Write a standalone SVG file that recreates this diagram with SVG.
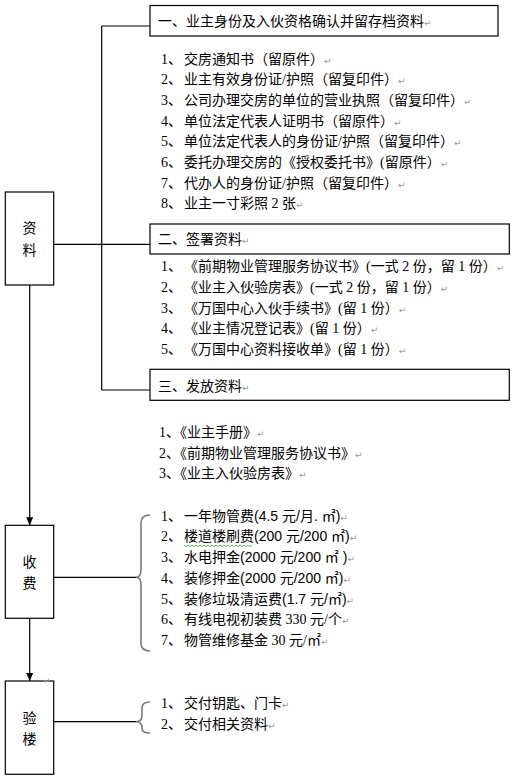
<svg xmlns="http://www.w3.org/2000/svg" width="518" height="782" viewBox="0 0 518 782">
<defs>
<style>
.bg{fill:#fff}
.box{fill:#fff;stroke:#000;stroke-width:1.2}
.ln{fill:none;stroke:#000;stroke-width:1.2}
.br{fill:none;stroke:#7a7a7a;stroke-width:1.6}
.t{font-family:"Liberation Serif","Noto Sans CJK SC",serif;font-size:14px;fill:#000}
.s{font-family:"Liberation Sans","Noto Sans CJK SC",sans-serif}
.pm{font-family:"DejaVu Sans",sans-serif;font-size:9px;fill:#9a9a9a}
.lb{font-family:"Noto Sans CJK SC",sans-serif;font-size:14px;fill:#000;text-anchor:middle}
.wv{fill:none;stroke:#3c9a3c;stroke-width:0.8}
</style>
<marker id="arr" viewBox="0 0 8 8" refX="8" refY="4" markerWidth="8" markerHeight="8" markerUnits="userSpaceOnUse" orient="auto">
<path d="M0,0.5 L8,4 L0,7.5 Z" fill="#000"/>
</marker>
</defs>
<rect class="bg" x="0" y="0" width="518" height="782"/>

<g id="connectors">
<line class="ln" x1="101.7" y1="26" x2="101.7" y2="390"/>
<line class="ln" x1="101.7" y1="26" x2="150" y2="26"/>
<line class="ln" x1="53.7" y1="244.3" x2="150" y2="244.3"/>
<line class="ln" x1="101.7" y1="390" x2="150" y2="390"/>
<line class="ln" x1="29.7" y1="285" x2="29.7" y2="525.3" marker-end="url(#arr)"/>
<line class="ln" x1="29.7" y1="618.3" x2="29.7" y2="681" marker-end="url(#arr)"/>
<line class="ln" x1="53.7" y1="577.3" x2="137" y2="577.3"/>
<line class="ln" x1="53.7" y1="721.7" x2="137" y2="721.7"/>
<path class="br" d="M150,515 Q141,515 141,523 L141,569.5 Q141,577.3 136,577.3 Q141,577.3 141,585 L141,643 Q141,651 150,651"/>
<path class="br" d="M150,702 Q142,702 142,708 L142,715.5 Q142,721.7 136,721.7 Q142,721.7 142,727.5 L142,728.5 Q142,733 150,733"/>
</g>

<g id="node-ziliao">
<rect class="box" x="5.3" y="192" width="48.4" height="93"/>
<text class="lb" x="29.5" y="233.3">资</text>
<text class="lb" x="29.5" y="255">料</text>
</g>

<g id="node-shoufei">
<rect class="box" x="5.3" y="525.3" width="48.4" height="93"/>
<text class="lb" x="29.5" y="566.7">收</text>
<text class="lb" x="29.5" y="587.7">费</text>
</g>

<g id="node-yanlou">
<rect class="box" x="5.3" y="681" width="48.4" height="93.3"/>
<text class="lb" x="29.5" y="723.3">验</text>
<text class="lb" x="29.5" y="744.3">楼</text>
<text class="pm" x="43" y="684">↵</text>
</g>

<g id="node-section1">
<rect class="box" x="150" y="5.5" width="348" height="30.5"/>
<text class="t" x="158" y="25.7">一、业主身份及入伙资格确认并留存档资料<tspan class="pm">↵</tspan></text>
</g>
<g id="list-section1">
<text class="t" x="161" y="63.5">1、<tspan x="184">交房通知书（留原件）</tspan><tspan class="pm">↵</tspan></text>
<text class="t" x="161" y="84.2">2、<tspan x="184">业主有效身份证/护照（留复印件）</tspan><tspan class="pm">↵</tspan></text>
<text class="t" x="161" y="104.9">3、<tspan x="184">公司办理交房的单位的营业执照（留复印件）</tspan><tspan class="pm">↵</tspan></text>
<text class="t" x="161" y="125.6">4、<tspan x="184">单位法定代表人证明书（留原件）</tspan><tspan class="pm">↵</tspan></text>
<text class="t" x="161" y="146.3">5、<tspan x="184">单位法定代表人的身份证/护照（留复印件）</tspan><tspan class="pm">↵</tspan></text>
<text class="t" x="161" y="167">6、<tspan x="184">委托办理交房的《授权委托书》(留原件）</tspan><tspan class="pm">↵</tspan></text>
<text class="t" x="161" y="187.7">7、<tspan x="184">代办人的身份证/护照（留复印件）</tspan><tspan class="pm">↵</tspan></text>
<text class="t" x="161" y="208.4">8、<tspan x="184">业主一寸彩照 2 张</tspan><tspan class="pm">↵</tspan></text>
</g>

<g id="node-section2">
<rect class="box" x="150" y="224" width="359.3" height="30"/>
<text class="t" x="158" y="244.3">二、签署资料<tspan class="pm">↵</tspan></text>
</g>
<g id="list-section2">
<text class="t" x="161" y="271">1、<tspan x="184">《前期物业管理服务协议书》(一式 2 份，留 1 份）</tspan><tspan class="pm">↵</tspan></text>
<text class="t" x="161" y="291.8">2、<tspan x="184">《业主入伙验房表》(一式 2 份，留 1 份）</tspan><tspan class="pm">↵</tspan></text>
<text class="t" x="161" y="312.6">3、<tspan x="184">《万国中心入伙手续书》(留 1 份）</tspan><tspan class="pm">↵</tspan></text>
<text class="t" x="161" y="333.4">4、<tspan x="184">《业主情况登记表》(留 1 份）</tspan><tspan class="pm">↵</tspan></text>
<text class="t" x="161" y="354.2">5、<tspan x="184">《万国中心资料接收单》(留 1 份）</tspan><tspan class="pm">↵</tspan></text>
</g>

<g id="node-section3">
<rect class="box" x="150" y="369.3" width="359.3" height="31"/>
<text class="t" x="158" y="390.7">三、发放资料<tspan class="pm">↵</tspan></text>
</g>
<g id="list-section3">
<text class="t" x="159" y="437.3">1、《业主手册》<tspan class="pm">↵</tspan></text>
<text class="t" x="159" y="457.5">2、《前期物业管理服务协议书》<tspan class="pm">↵</tspan></text>
<text class="t" x="159" y="477.7">3、《业主入伙验房表》<tspan class="pm">↵</tspan></text>
</g>

<g id="list-shoufei">
<text class="t" x="161" y="520.7">1、<tspan x="184">一年物管费<tspan class="s">(4.5 </tspan>元<tspan class="s">/</tspan>月<tspan class="s">. </tspan>㎡<tspan class="s">)</tspan></tspan><tspan class="pm">↵</tspan></text>
<text class="t" x="161" y="541.4">2、<tspan x="184">楼道楼刷费<tspan class="s">(200 </tspan>元<tspan class="s">/200 </tspan>㎡<tspan class="s">)</tspan></tspan><tspan class="pm">↵</tspan></text>
<path class="wv" d="M184,545 l2,1.5 l2,-1.5 l2,1.5 l2,-1.5 l2,1.5 l2,-1.5 l2,1.5 l2,-1.5 l2,1.5 l2,-1.5 l2,1.5 l2,-1.5 l2,1.5 l2,-1.5 l2,1.5 l2,-1.5 l2,1.5 l2,-1.5 l2,1.5 l2,-1.5 l2,1.5 l2,-1.5 l2,1.5 l2,-1.5 l2,1.5 l2,-1.5 l2,1.5 l2,-1.5 l2,1.5 l2,-1.5 l2,1.5 l2,-1.5 l2,1.5 l2,-1.5"/>
<text class="t" x="161" y="562.1">3、<tspan x="184">水电押金<tspan class="s">(2000 </tspan>元<tspan class="s">/200 </tspan>㎡<tspan class="s"> )</tspan></tspan><tspan class="pm">↵</tspan></text>
<text class="t" x="161" y="582.8">4、<tspan x="184">装修押金<tspan class="s">(2000 </tspan>元<tspan class="s">/200 </tspan>㎡<tspan class="s">)</tspan></tspan><tspan class="pm">↵</tspan></text>
<text class="t" x="161" y="603.5">5、<tspan x="184">装修垃圾清运费<tspan class="s">(1.7 </tspan>元<tspan class="s">/</tspan>㎡<tspan class="s">)</tspan></tspan><tspan class="pm">↵</tspan></text>
<text class="t" x="161" y="624.2">6、<tspan x="184">有线电视初装费 330 元/个</tspan><tspan class="pm">↵</tspan></text>
<text class="t" x="161" y="645">7、<tspan x="184">物管维修基金 30 元/㎡</tspan><tspan class="pm">↵</tspan></text>
</g>

<g id="list-yanlou">
<text class="t" x="161" y="707.7">1、<tspan x="184">交付钥匙、门卡</tspan><tspan class="pm">↵</tspan></text>
<text class="t" x="161" y="729">2、<tspan x="184">交付相关资料</tspan><tspan class="pm">↵</tspan></text>
</g>
</svg>
